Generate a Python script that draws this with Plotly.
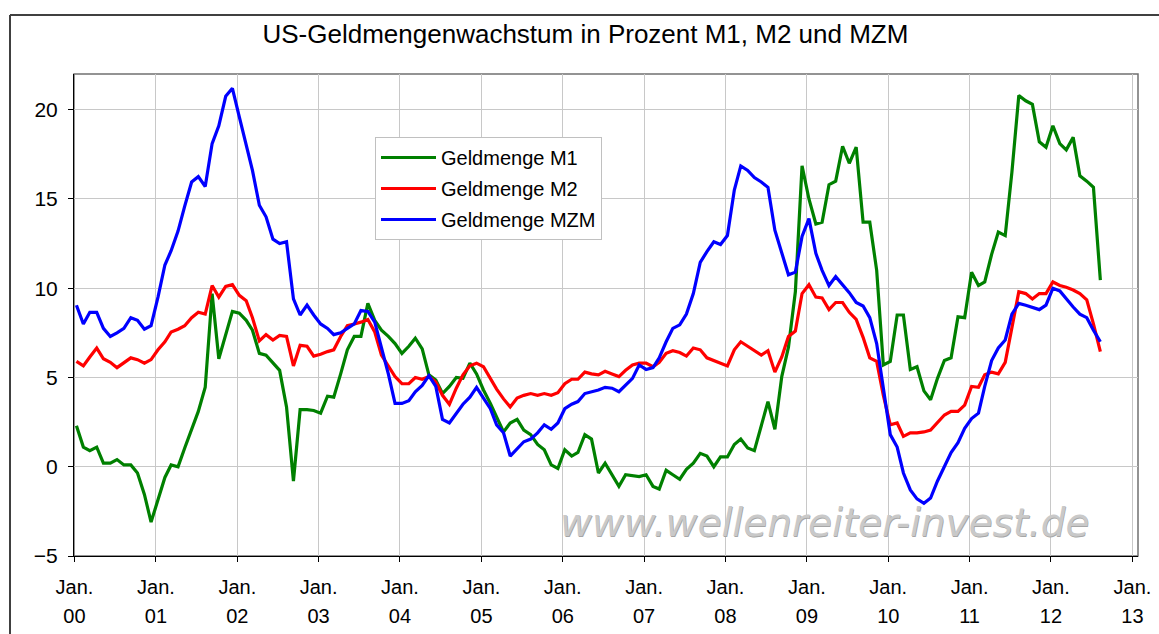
import pandas as pd
import plotly.graph_objects as go

# ---------------- data ----------------
months = pd.date_range("2000-01-10", periods=152, freq=pd.DateOffset(months=1))

m1 = [2.3, 1.1, 0.9, 1.1, 0.2, 0.2, 0.4, 0.1, 0.1, -0.35, -1.55, -3.1,
      -1.85, -0.6, 0.1, 0.0, 1.05, 2.05, 3.1, 4.45, 9.7, 6.05, 7.35, 8.7,
      8.6, 8.2, 7.65, 6.35, 6.25, 5.85, 5.4, 3.35, -0.8, 3.2, 3.2, 3.15,
      3.0, 3.95, 3.9, 5.2, 6.55, 7.3, 7.3, 9.15, 8.2, 7.65, 7.3, 6.9,
      6.35, 6.75, 7.2, 6.6, 5.15, 4.85, 4.1, 4.5, 5.0, 4.95, 5.8, 5.2,
      4.3, 3.55, 2.8, 1.95, 2.45, 2.65, 2.05, 1.8, 1.25, 0.95, 0.1, -0.1,
      0.95, 0.6, 0.8, 1.8, 1.55, -0.35, 0.2, -0.45, -1.1, -0.45, -0.5, -0.55,
      -0.45, -1.1, -1.25, -0.2, -0.45, -0.7, -0.15, 0.2, 0.75, 0.6, 0.0, 0.55,
      0.55, 1.25, 1.55, 1.05, 0.9, 2.3, 3.65, 2.1, 5.05, 6.7, 9.8, 16.85,
      15.0, 13.6, 13.7, 15.8, 16.0, 17.95, 17.0, 17.9, 13.7, 13.7, 11.0, 5.7,
      5.9, 8.5, 8.5, 5.45, 5.6, 4.25, 3.75, 4.95, 5.95, 6.1, 8.4, 8.35,
      10.9, 10.15, 10.35, 11.9, 13.15, 12.95, 16.5, 20.8, 20.5, 20.3, 18.2, 17.9,
      19.1, 18.1, 17.75, 18.45, 16.3, 16.0, 15.65, 10.45]

m2 = [5.9, 5.65, 6.15, 6.65, 6.05, 5.85, 5.55, 5.8, 6.1, 6.0, 5.8, 6.0,
      6.55, 7.0, 7.55, 7.7, 7.9, 8.35, 8.65, 8.55, 10.15, 9.5, 10.1, 10.2,
      9.6, 9.3, 8.35, 7.05, 7.4, 7.1, 7.35, 7.3, 5.65, 6.8, 6.75, 6.2,
      6.3, 6.45, 6.55, 7.3, 7.9, 8.0, 8.1, 8.25, 7.55, 6.25, 5.6, 5.05,
      4.65, 4.65, 5.0, 4.9, 5.05, 4.75, 4.0, 3.5, 4.4, 5.15, 5.65, 5.8,
      5.6, 4.9, 4.35, 3.8, 3.35, 3.85, 4.0, 4.1, 4.0, 4.1, 4.0, 4.15,
      4.65, 4.9, 4.9, 5.3, 5.2, 5.15, 5.35, 5.2, 5.05, 5.4, 5.7, 5.8,
      5.8, 5.6, 5.85, 6.35, 6.5, 6.4, 6.2, 6.65, 6.55, 6.1, 5.95, 5.8,
      5.65, 6.55, 7.0, 6.75, 6.5, 6.25, 6.5, 5.3, 6.15, 7.3, 7.6, 9.7,
      10.2, 9.5, 9.45, 8.8, 9.2, 9.2, 8.65, 8.25, 7.25, 6.1, 5.9, 4.0,
      2.35, 2.45, 1.7, 1.9, 1.9, 1.95, 2.05, 2.45, 2.9, 3.1, 3.1, 3.45,
      4.5, 4.45, 5.15, 5.3, 5.2, 5.85, 7.8, 9.8, 9.7, 9.4, 9.7, 9.7,
      10.35, 10.15, 10.05, 9.9, 9.7, 9.35, 8.0, 6.45]

mzm = [9.05, 8.0, 8.65, 8.65, 7.75, 7.3, 7.5, 7.75, 8.35, 8.2, 7.7, 7.9,
       9.5, 11.3, 12.1, 13.2, 14.6, 15.95, 16.25, 15.7, 18.1, 19.1, 20.75, 21.2,
       19.6, 18.1, 16.6, 14.65, 14.0, 12.75, 12.5, 12.6, 9.4, 8.5, 9.05, 8.5,
       8.0, 7.75, 7.4, 7.5, 7.75, 8.0, 8.75, 8.7, 8.1, 6.7, 5.2, 3.55,
       3.55, 3.7, 4.2, 4.55, 5.1, 4.5, 2.65, 2.45, 3.0, 3.5, 3.9, 4.45,
       3.85, 3.25, 2.35, 1.9, 0.6, 1.0, 1.4, 1.55, 1.9, 2.35, 2.1, 2.45,
       3.25, 3.5, 3.65, 4.1, 4.2, 4.3, 4.45, 4.4, 4.2, 4.55, 4.95, 5.7,
       5.45, 5.55, 6.1, 7.0, 7.75, 7.95, 8.55, 9.7, 11.45, 12.05, 12.6, 12.45,
       12.95, 15.5, 16.85, 16.6, 16.2, 15.95, 15.65, 13.25, 11.95, 10.75, 10.9, 12.9,
       13.9, 11.95, 11.0, 10.15, 10.65, 10.2, 9.75, 9.2, 9.0, 8.35, 6.9, 4.4,
       1.8, 1.1, -0.35, -1.3, -1.8, -2.05, -1.75, -0.8, 0.0, 0.8, 1.35, 2.15,
       2.7, 3.0, 4.5, 5.95, 6.65, 7.1, 8.55, 9.15, 9.05, 8.95, 8.8, 9.05,
       10.0, 9.85, 9.4, 8.95, 8.55, 8.35, 7.65, 7.0]

series_names = ["Geldmenge M1", "Geldmenge M2", "Geldmenge MZM"]
series_colors = ["#008000", "#FF0000", "#0000FF"]

tick_dates = [f"{y}-01-01" for y in range(2000, 2014)]
tick_month_labels = ["Jan."] * len(tick_dates)
tick_year_labels = [f"{y % 100:02d}" for y in range(2000, 2014)]
y_ticks = [-5, 0, 5, 10, 15, 20]

title_text = "US-Geldmengenwachstum in Prozent M1, M2 und MZM"
watermark = "www.wellenreiter-invest.de"

# ---------------- figure ----------------
W, H = 1159, 634
FONT = "Liberation Sans, Arial, sans-serif"
fig = go.Figure()
for name, vals, col in zip(series_names, [m1, m2, mzm], series_colors):
    fig.add_trace(go.Scatter(x=months, y=vals, mode="lines", name=name,
                             legendgroup=name,
                             line=dict(color=col, width=3.2)))

# helper trace for the year-label axis
fig.add_trace(go.Scatter(x=[months[0]], y=[None], xaxis="x2", showlegend=False,
                         hoverinfo="skip"))

grid = "#c8c8c8"
fig.update_layout(
    width=W, height=H,
    margin=dict(l=74, r=W - 74 - 1064, t=74, b=H - 74 - 482, autoexpand=False),
    paper_bgcolor="white", plot_bgcolor="white",
    font=dict(family=FONT, color="black", size=20),
    title=dict(text=title_text, x=0.4807, xref="paper", xanchor="center",
               y=1 - 34 / H, yref="container", yanchor="middle",
               font=dict(size=26, family=FONT, color="black")),
    showlegend=True,
    legend=dict(x=(375 - 74) / 1064, y=(556 - 137) / 482, xanchor="left", yanchor="top",
                bgcolor="white", bordercolor="#c0c0c0", borderwidth=1,
                font=dict(size=20, family=FONT), itemwidth=55,
                traceorder="grouped", tracegroupgap=2),
    xaxis=dict(type="date", range=["1999-12-30", "2013-01-26"],
               tickvals=tick_dates, ticktext=tick_month_labels,
               showgrid=True, gridcolor=grid, gridwidth=1,
               showline=True, linecolor="black", linewidth=1,
               ticks="outside", ticklen=5, tickcolor="black",
               tickfont=dict(size=20), ticklabelstandoff=8, zeroline=False,
               automargin=False),
    xaxis2=dict(type="date", overlaying="x", matches="x", side="bottom", anchor="y",
                tickvals=tick_dates, ticktext=tick_year_labels,
                showgrid=False, showline=False, ticks="",
                tickfont=dict(size=20), ticklabelstandoff=46, automargin=False),
    yaxis=dict(range=[-5, 22], tickvals=y_ticks,
               showgrid=True, gridcolor=grid, gridwidth=1,
               showline=True, linecolor="black", linewidth=1,
               ticks="outside", ticklen=5, tickcolor="black",
               tickfont=dict(size=21), ticklabelstandoff=6, zeroline=False,
               automargin=False),
    hovermode=False,
)

# plot area border (top/right grey)
fig.add_shape(type="rect", xref="paper", yref="paper", x0=0, y0=0, x1=1, y1=1,
              line=dict(color="#707070", width=1.5), layer="below")
# outer chart frame: only its left and top edges fall inside the picture
frame_left = (10 - 74) / 1064
frame_top = (556 - 15) / 482
fig.add_shape(type="line", xref="paper", yref="paper",
              x0=frame_left, x1=frame_left, y0=-0.4, y1=frame_top,
              line=dict(color="#404040", width=2))
fig.add_shape(type="line", xref="paper", yref="paper",
              x0=frame_left, x1=1.3, y0=frame_top, y1=frame_top,
              line=dict(color="#404040", width=2))

# watermark
fig.add_annotation(text=f"<i>{watermark}</i>", xref="paper", yref="paper",
                   x=(824 - 74) / 1064, y=(556 - 522) / 482,
                   xanchor="center", yanchor="middle", showarrow=False,
                   font=dict(family="DejaVu Sans", size=39, color="#c9c9c9",
                             shadow="0.7px 0.7px 0px #a6a6a6"))

fig.write_html("out.html", config={"displayModeBar": False},
               post_script="document.body.style.margin='0';"
                           "document.body.style.overflow='hidden';")
